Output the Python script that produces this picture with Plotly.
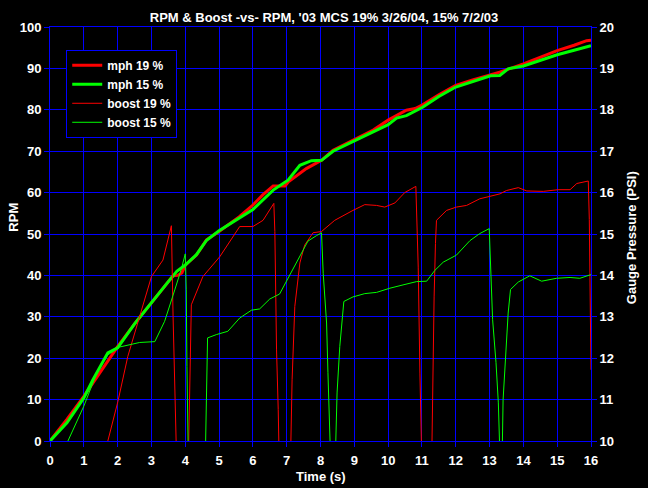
import plotly.graph_objects as go

# ---------------- data ----------------
time_mph19 = [0, 0.5, 1.0, 1.5, 2.0, 2.5, 3.0, 3.3, 3.64, 3.78, 3.9, 4.0, 4.33, 4.63, 5.0, 5.6,
              6.0, 6.3, 6.6, 6.95, 7.05, 7.58, 8.03, 8.37, 9.0, 9.56, 10.0, 10.54, 10.8, 11.02,
              11.5, 12.0, 12.5, 13.0, 13.3, 14.0, 14.5, 15.0, 15.5, 15.87, 16.0]
mph19 = [0, 5.2, 10.8, 16.7, 22.8, 28.3, 33.3, 36.5, 39.9, 40.0, 40.6, 42.5, 44.9, 48.6, 50.6, 54.2,
         57.0, 59.5, 61.6, 61.6, 62.6, 65.8, 67.8, 70.2, 72.8, 75.1, 77.5, 79.9, 80.3, 81.2,
         83.6, 85.9, 87.2, 88.3, 89.1, 91.1, 92.7, 94.3, 95.6, 96.7, 96.8]

time_mph15 = [0, 0.5, 1.0, 1.27, 1.71, 2.0, 2.5, 3.0, 3.5, 3.75, 4.0, 4.33, 4.63, 5.0, 5.6, 6.0,
              6.6, 7.04, 7.39, 7.73, 8.03, 8.37, 9.0, 9.56, 10.0, 10.25, 10.54, 11.02, 11.5, 12.0,
              12.5, 13.03, 13.3, 13.55, 14.0, 14.5, 15.0, 15.5, 16.0]
mph15 = [0, 4.4, 10.4, 14.8, 21.3, 22.5, 28.3, 33.5, 38.5, 41.0, 42.5, 45.0, 48.5, 50.8, 53.8, 55.9,
         60.6, 63.0, 66.6, 67.7, 67.8, 70.0, 72.5, 74.7, 76.4, 78.0, 78.6, 80.6, 83.2, 85.5,
         86.9, 88.2, 88.3, 89.9, 90.6, 92.0, 93.3, 94.4, 95.5]

time_boost19 = [1.71, 2.01, 2.3, 2.65, 3.0, 3.34, 3.59, 3.64, 3.69, 3.76, 4.08, 4.18, 4.52, 5.02,
                5.61, 6.0, 6.3, 6.62, 6.65, 6.70, 6.75, 6.79, 7.10, 7.16, 7.24, 7.39, 7.53, 7.78,
                8.03, 8.42, 8.96, 9.31, 9.66, 9.90, 10.20, 10.49, 10.82, 10.84, 10.89, 10.94,
                11.01, 11.28, 11.33, 11.36, 11.40, 11.43, 11.73, 12.02, 12.32, 12.71, 13.01,
                13.31, 13.50, 13.85, 14.10, 14.59, 15.03, 15.38, 15.58, 15.92, 15.95, 15.97, 16.0]
boost19 = [10.0, 10.96, 12.04, 13.0, 13.97, 14.37, 15.2, 13.0, 11.65, 9.0, 9.0, 13.29, 13.97, 14.45,
           15.18, 15.18, 15.33, 15.74, 15.06, 12.2, 10.76, 9.0, 9.0, 11.48, 13.25, 14.3, 14.73, 15.03,
           15.06, 15.33, 15.57, 15.71, 15.69, 15.65, 15.75, 16.0, 16.15, 15.5, 14.2, 11.64,
           9.0, 9.0, 12.37, 13.48, 14.77, 15.33, 15.57, 15.65, 15.69, 15.85, 15.91,
           15.97, 16.05, 16.12, 16.04, 16.03, 16.07, 16.07, 16.22, 16.28, 15.35, 13.57, 11.72]

time_boost15 = [0.53, 1.0, 1.42, 1.71, 2.06, 2.65, 3.10, 3.39, 3.69, 3.89, 4.0, 4.03, 4.05, 4.10,
                4.58, 4.63, 4.66, 4.92, 5.26, 5.61, 5.96, 6.2, 6.5, 6.79, 7.09, 7.44, 7.63, 7.88,
                8.03, 8.08, 8.18, 8.22, 8.27, 8.32, 8.42, 8.49, 8.57, 8.65, 8.69, 8.96, 9.31, 9.66,
                10.05, 10.44, 10.84, 11.14, 11.38, 11.63, 12.02, 12.42, 12.71, 12.99, 13.03, 13.09,
                13.19, 13.26, 13.33, 13.36, 13.40, 13.48, 13.55, 13.62, 13.85, 14.19, 14.54, 14.98,
                15.38, 15.67, 16.0]
boost15 = [10.0, 10.84, 11.72, 12.08, 12.27, 12.38, 12.40, 12.89, 13.65, 14.17, 14.52, 13.65, 11.8, 9.0,
           9.0, 11.72, 12.49, 12.57, 12.65, 12.97, 13.16, 13.19, 13.43, 13.55, 14.0, 14.52, 14.83, 14.96,
           15.03, 14.05, 12.85, 11.65, 10.68, 9.0, 9.0, 11.16, 12.28, 13.16, 13.37, 13.48, 13.56, 13.59,
           13.69, 13.77, 13.85, 13.86, 14.12, 14.32, 14.49, 14.84, 15.01, 15.13, 14.38, 12.93,
           11.9, 10.92, 9.0, 9.0, 10.99, 12.04, 13.09, 13.66, 13.84, 13.99, 13.86, 13.93,
           13.95, 13.93, 14.02]

series_names = ["mph 19 %", "mph 15 %", "boost 19 %", "boost 15 %"]
title_text = "RPM & Boost -vs- RPM, '03 MCS 19% 3/26/04, 15% 7/2/03"

# ---------------- figure ----------------
RED = "#ff0000"
GREEN = "#00ff00"
BLUE = "#0000ff"
FONT = "Liberation Sans, Arial, sans-serif"

fig = go.Figure()
fig.add_trace(go.Scatter(x=time_mph19, y=mph19, name=series_names[0], mode="lines",
                         line=dict(color=RED, width=3)))
fig.add_trace(go.Scatter(x=time_mph15, y=mph15, name=series_names[1], mode="lines",
                         line=dict(color=GREEN, width=3)))
fig.add_trace(go.Scatter(x=time_boost19, y=boost19, name=series_names[2], mode="lines",
                         yaxis="y2", line=dict(color=RED, width=1)))
fig.add_trace(go.Scatter(x=time_boost15, y=boost15, name=series_names[3], mode="lines",
                         yaxis="y2", line=dict(color=GREEN, width=1)))

txt13 = dict(family=FONT, size=13, color="white", weight="bold")

fig.update_layout(
    width=648, height=488,
    paper_bgcolor="black", plot_bgcolor="black",
    margin=dict(l=50, r=57, t=27, b=47),
    showlegend=True,
    title=dict(text=title_text, x=0.5, xanchor="center", y=1 - 17 / 488, yref="container",
               yanchor="middle", font=txt13),
    xaxis=dict(range=[0, 16], tick0=0, dtick=1, showgrid=True, gridcolor=BLUE, gridwidth=1,
               showline=True, linecolor=BLUE, linewidth=1, mirror=True, zeroline=False,
               ticks="outside", ticklen=5, tickcolor=BLUE, tickfont=txt13, automargin=False,
               ticklabelstandoff=2),
    yaxis=dict(range=[0, 100], tick0=0, dtick=10, showgrid=True, gridcolor=BLUE, gridwidth=1,
               showline=True, linecolor=BLUE, linewidth=1, mirror=True, zeroline=False,
               ticks="outside", ticklen=5, tickcolor=BLUE, tickfont=txt13, automargin=False),
    yaxis2=dict(range=[10, 20], tick0=10, dtick=1, overlaying="y", side="right", showgrid=False,
                zeroline=False, showline=True, linecolor=BLUE, ticks="outside", ticklen=5,
                tickcolor=BLUE, tickfont=txt13, automargin=False),
    legend=dict(x=0.03, y=0.945, xanchor="left", yanchor="top", bgcolor="black",
                bordercolor=BLUE, borderwidth=1, itemwidth=30,
                font=dict(family=FONT, size=12, color="white", weight="bold")),
    annotations=[
        dict(text="Time (s)", xref="paper", yref="paper", x=0.5, y=-0.085, xanchor="center",
             yanchor="middle", showarrow=False, font=txt13),
        dict(text="RPM", xref="paper", yref="paper", x=-0.068, y=0.54, xanchor="center",
             yanchor="middle", showarrow=False, textangle=-90, font=txt13),
        dict(text="Gauge Pressure (PSI)", xref="paper", yref="paper", x=1.074, y=0.49,
             xanchor="center", yanchor="middle", showarrow=False, textangle=-90, font=txt13),
    ],
)

fig.write_html("out.html", config={"displayModeBar": False},
               post_script="document.body.style.margin='0';document.body.style.background='black';")
